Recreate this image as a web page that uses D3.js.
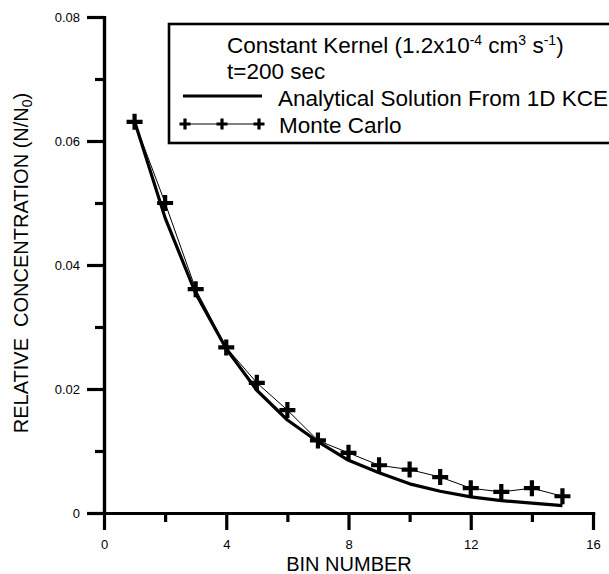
<!DOCTYPE html>
<html>
<head>
<meta charset="utf-8">
<script src="https://cdn.jsdelivr.net/npm/d3@7"></script>
<style>
  body { margin: 0; background: #fff; }
  svg { display: block; font-family: Arial, "Liberation Sans", Helvetica, sans-serif; }
  .ax text { fill: #000; font-size: 13px; font-family: Arial, "Liberation Sans", sans-serif; }
</style>
</head>
<body>
<svg id="chart" width="609" height="574"></svg>
<script>
// bin numbers and relative concentrations
var bins = [1, 2, 3, 4, 5, 6, 7, 8, 9, 10, 11, 12, 13, 14, 15];
var analytical = [0.0632, 0.0476, 0.0354, 0.0265, 0.0198, 0.0150, 0.0115, 0.0085, 0.0065, 0.0047, 0.0035, 0.0026, 0.0020, 0.0016, 0.0012];
var monteCarlo = [0.0631, 0.0500, 0.0361, 0.0267, 0.0210, 0.0166, 0.0117, 0.0097, 0.0077, 0.0070, 0.0058, 0.0040, 0.0034, 0.0040, 0.0027];

var xMajor = [0, 4, 8, 12, 16];
var xMinor = [2, 6, 10, 14];
var yMajor = [0, 0.02, 0.04, 0.06, 0.08];
var yMinor = [0.01, 0.03, 0.05, 0.07];

var svg = d3.select("#chart");

var x = d3.scaleLinear().domain([0, 16]).range([104, 593]);
var y = d3.scaleLinear().domain([0, 0.08]).range([513, 17]);

function fmtY(d) { return d === 0 ? "0" : d.toFixed(2); }

function styleAxis(g) {
    g.select(".domain").attr("stroke", "#000").attr("stroke-width", 3.2).attr("stroke-linecap", "square");
    g.selectAll(".tick line").attr("stroke", "#000").attr("stroke-width", 3.2);
}

// minor ticks first, then major ticks with labels
svg.append("g")
    .attr("class", "ax")
    .attr("transform", "translate(0,513)")
    .call(d3.axisBottom(x).tickValues(xMinor).tickSize(9).tickSizeOuter(0).tickFormat(""))
    .call(styleAxis);
svg.append("g")
    .attr("class", "ax")
    .attr("transform", "translate(104,0)")
    .call(d3.axisLeft(y).tickValues(yMinor).tickSize(9).tickSizeOuter(0).tickFormat(""))
    .call(styleAxis);

svg.append("g")
    .attr("class", "ax")
    .attr("transform", "translate(0,513)")
    .call(d3.axisBottom(x).tickValues(xMajor).tickSize(17).tickSizeOuter(0).tickPadding(10))
    .call(styleAxis);
svg.append("g")
    .attr("class", "ax")
    .attr("transform", "translate(104,0)")
    .call(d3.axisLeft(y).tickValues(yMajor).tickSize(17).tickSizeOuter(0).tickPadding(7).tickFormat(fmtY))
    .call(styleAxis);

// axis titles
svg.append("text")
    .attr("x", 349)
    .attr("y", 571)
    .attr("text-anchor", "middle")
    .style("font-size", "20px")
    .text("BIN NUMBER");

var ylab = svg.append("text")
    .attr("transform", "translate(28,263) rotate(-90)")
    .attr("text-anchor", "middle")
    .style("font-size", "20px");
ylab.append("tspan").text("RELATIVE\u00a0\u00a0CONCENTRATION (N/N");
ylab.append("tspan").attr("dy", 4).style("font-size", "14px").text("0");
ylab.append("tspan").attr("dy", -4).text(")");

// series
var pts = bins.map(function(b, i) { return {x: b, a: analytical[i], m: monteCarlo[i]}; });

svg.append("path")
    .datum(pts)
    .attr("fill", "none")
    .attr("stroke", "#000")
    .attr("stroke-width", 1)
    .attr("d", d3.line().x(function(d) { return x(d.x); }).y(function(d) { return y(d.m); }));

svg.append("path")
    .datum(pts)
    .attr("fill", "none")
    .attr("stroke", "#000")
    .attr("stroke-width", 3.2)
    .attr("stroke-linejoin", "round")
    .attr("d", d3.line().x(function(d) { return x(d.x); }).y(function(d) { return y(d.a); }));

function plus(sel, size, w) {
    var h = size / 2;
    sel.append("path")
        .attr("stroke", "#000")
        .attr("stroke-width", w)
        .attr("fill", "none")
        .attr("d", "M" + (-h) + ",0H" + h + "M0," + (-h) + "V" + h);
}

svg.append("g").selectAll("g")
    .data(pts)
    .enter().append("g")
    .attr("transform", function(d) { return "translate(" + x(d.x) + "," + y(d.m) + ")"; })
    .each(function() { plus(d3.select(this), 16, 4.2); });

// legend
var lg = svg.append("g");
lg.append("rect")
    .attr("x", 169).attr("y", 24)
    .attr("width", 460).attr("height", 119)
    .attr("fill", "#fff")
    .attr("stroke", "#000")
    .attr("stroke-width", 2.6);

var t1 = lg.append("text").attr("x", 227).attr("y", 53).style("font-size", "22.5px");
t1.append("tspan").text("Constant Kernel (1.2x10");
t1.append("tspan").attr("dy", -8).style("font-size", "14px").text("-4");
t1.append("tspan").attr("dy", 8).text(" cm");
t1.append("tspan").attr("dy", -8).style("font-size", "14px").text("3");
t1.append("tspan").attr("dy", 8).text(" s");
t1.append("tspan").attr("dy", -8).style("font-size", "14px").text("-1");
t1.append("tspan").attr("dy", 8).text(")");

lg.append("text").attr("x", 227).attr("y", 79).style("font-size", "22.5px").text("t=200 sec");

lg.append("line")
    .attr("x1", 183).attr("x2", 262).attr("y1", 96).attr("y2", 96)
    .attr("stroke", "#000").attr("stroke-width", 3);
lg.append("text").attr("x", 278).attr("y", 106).style("font-size", "22.5px").text("Analytical Solution From 1D KCE");

lg.append("line")
    .attr("x1", 185).attr("x2", 259).attr("y1", 124).attr("y2", 124)
    .attr("stroke", "#000").attr("stroke-width", 1);
lg.selectAll("g.mk")
    .data([185, 222, 259])
    .enter().append("g")
    .attr("class", "mk")
    .attr("transform", function(d) { return "translate(" + d + ",124)"; })
    .each(function() { plus(d3.select(this), 11, 3.2); });
lg.append("text").attr("x", 279).attr("y", 133).style("font-size", "22.5px").text("Monte Carlo");
</script>
</body>
</html>
